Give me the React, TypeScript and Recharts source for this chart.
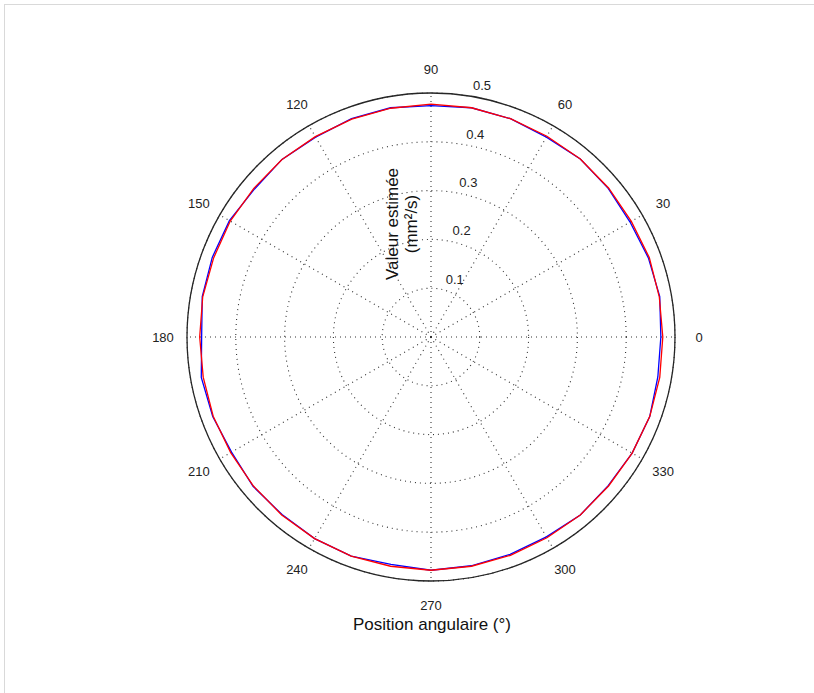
import React from 'react';
import { RadarChart, Radar, PolarGrid, PolarAngleAxis, PolarRadiusAxis } from 'recharts';

// angular positions (degrees) of the samples
const angles = [0, 10, 20, 30, 40, 50, 60, 70, 80, 90, 100, 110, 120, 130, 140, 150, 160, 170,
  180, 190, 200, 210, 220, 230, 240, 250, 260, 270, 280, 290, 300, 310, 320, 330, 340, 350];

// estimated value, first measurement (blue)
const blueValues = [0.471, 0.476, 0.474, 0.471, 0.474, 0.476, 0.473, 0.476, 0.477, 0.474, 0.477, 0.476,
  0.473, 0.475, 0.472, 0.477, 0.477, 0.476, 0.470, 0.478, 0.476, 0.472, 0.476, 0.475,
  0.477, 0.478, 0.473, 0.478, 0.476, 0.474, 0.473, 0.476, 0.474, 0.476, 0.477, 0.472];

// estimated value, second measurement (red)
const redValues = [0.475, 0.475, 0.476, 0.474, 0.475, 0.476, 0.475, 0.476, 0.477, 0.477, 0.476, 0.475,
  0.474, 0.475, 0.474, 0.475, 0.474, 0.475, 0.474, 0.474, 0.475, 0.474, 0.475, 0.476,
  0.477, 0.478, 0.477, 0.478, 0.477, 0.476, 0.475, 0.476, 0.475, 0.476, 0.477, 0.476];

const angleTicks = [0, 30, 60, 90, 120, 150, 180, 210, 240, 270, 300, 330];
const radiusTicks = [0, 0.1, 0.2, 0.3, 0.4, 0.5];

const data = angles.map((a, i) => ({ angle: a, blue: blueValues[i], red: redValues[i] }));

const FONT = '"Liberation Sans", Arial, Helvetica, sans-serif';

function AngleTick(props: any) {
  const { x, y, payload } = props;
  if (payload.value % 30 !== 0 || payload.value >= 360) return null;
  return (
    <text x={x} y={y} textAnchor="middle" dominantBaseline="central" fontSize={13} fontFamily={FONT} fill="#222">
      {payload.value}
    </text>
  );
}

function RadiusTick(props: any) {
  const { x, y, payload } = props;
  if (payload.value === 0) return null;
  return (
    <text x={x + 8} y={y - 5} textAnchor="start" fontSize={13} fontFamily={FONT} fill="#222">
      {Number(payload.value).toFixed(1)}
    </text>
  );
}

export default function App() {
  return (
    <div style={{ position: 'absolute', left: 0, top: 0, width: 814, height: 693, background: '#fff' }}>
      <div
        style={{
          position: 'absolute', left: 4, top: 4, right: 0, bottom: 0,
          borderLeft: '1px solid #d9d9d9', borderTop: '1px solid #d9d9d9',
        }}
      />
      <RadarChart
        width={814}
        height={693}
        data={data}
        cx={431}
        cy={337}
        outerRadius={244}
        startAngle={0}
        endAngle={360}
        margin={{ top: 0, right: 0, bottom: 0, left: 0 }}
        style={{ position: 'absolute', left: 0, top: 0 }}
      >
        <PolarGrid gridType="circle" polarAngles={angleTicks} stroke="#333" strokeWidth={1.1} strokeDasharray="1 4" />
        <Radar dataKey="blue" stroke="#0000ff" strokeWidth={1.3} fill="none" fillOpacity={0} dot={false} isAnimationActive={false} />
        <Radar dataKey="red" stroke="#ff0000" strokeWidth={1.3} fill="none" fillOpacity={0} dot={false} isAnimationActive={false} />
        <PolarAngleAxis
          dataKey="angle"
          type="number"
          domain={[0, 360]}
          ticks={angleTicks}
          tickSize={24}
          tickLine={false}
          axisLineType="circle"
          axisLine={{ stroke: '#262626', strokeWidth: 1.3 }}
          tick={<AngleTick />}
        />
        <PolarRadiusAxis
          angle={82}
          type="number"
          domain={[0, 0.5]}
          ticks={radiusTicks}
          tickCount={6}
          allowDecimals={true}
          axisLine={false}
          tickLine={false}
          tick={<RadiusTick />}
        />
        <text
          transform="translate(392 224) rotate(-90)"
          textAnchor="middle"
          dominantBaseline="central"
          fontSize={17}
          fontFamily={FONT}
          fill="#111"
        >
          Valeur estimée
        </text>
        <text
          transform="translate(411 224) rotate(-90)"
          textAnchor="middle"
          dominantBaseline="central"
          fontSize={17}
          fontFamily={FONT}
          fill="#111"
        >
          (mm²/s)
        </text>
        <text x={432} y={624} textAnchor="middle" dominantBaseline="central" fontSize={17} fontFamily={FONT} fill="#111">
          Position angulaire (°)
        </text>
      </RadarChart>
    </div>
  );
}
